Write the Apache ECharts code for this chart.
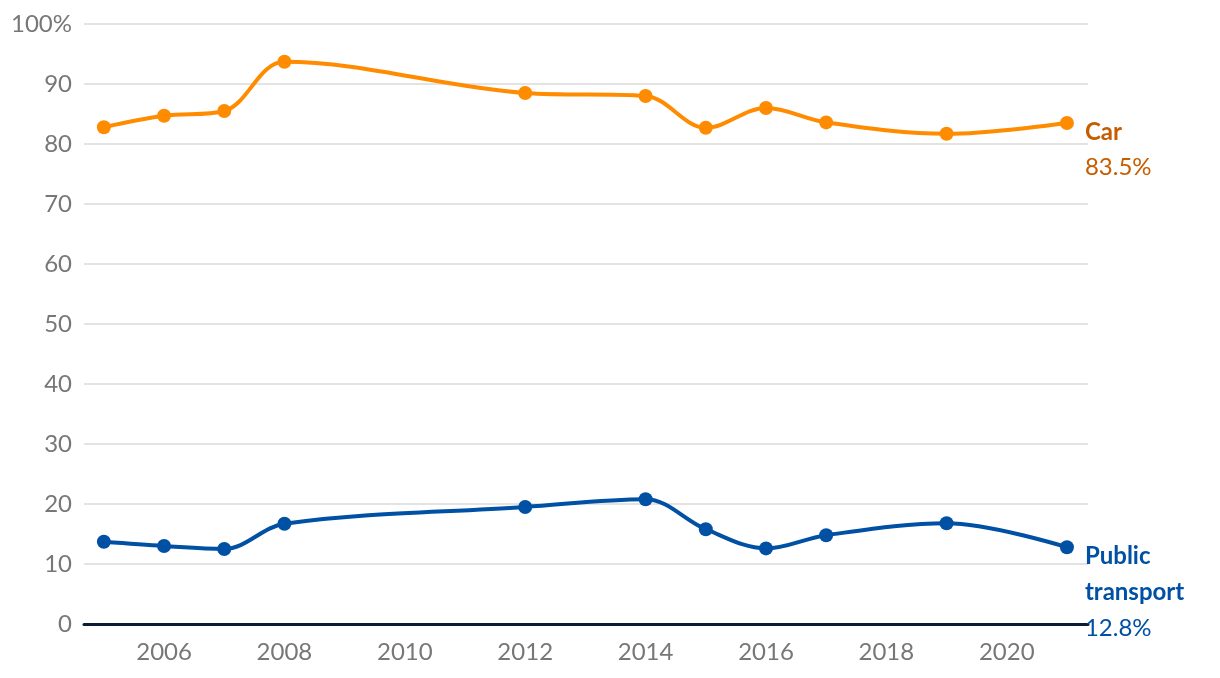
<!DOCTYPE html>
<html>
<head>
<meta charset="utf-8">
<script src="https://cdn.jsdelivr.net/npm/echarts@6/dist/echarts.min.js"></script>
<style>html,body{margin:0;padding:0;background:#fff}#c{width:1220px;height:678px}</style>
</head>
<body>
<div id="c"></div>
<script>
var years = [2005, 2006, 2007, 2008, 2012, 2014, 2015, 2016, 2017, 2019, 2021];
var carValues = [82.8, 84.7, 85.5, 93.7, 88.5, 88.0, 82.7, 86.0, 83.6, 81.7, 83.5];
var publicValues = [13.7, 13.0, 12.5, 16.7, 19.5, 20.8, 15.8, 12.6, 14.8, 16.8, 12.8];
var xTickLabels = [2006, 2008, 2010, 2012, 2014, 2016, 2018, 2020];
var seriesNames = ['Car', 'Public transport'];

var FONT = 'Lato, "Open Sans", sans-serif';
function pairs(vals){ return years.map(function(y,i){ return [y, vals[i]]; }); }

var chart = echarts.init(document.getElementById('c'), null, {renderer:'canvas'});
chart.setOption({
  animation: false,
  grid: {left: 84, right: 132, top: 24, bottom: 54, containLabel: false},
  xAxis: {
    type: 'value', min: 2004.67, max: 2021.35,
    splitLine: {show: false},
    axisLine: {show: true, onZero: true, lineStyle: {color: '#0c1a36', width: 3}},
    axisTick: {show: false},
    axisLabel: {customValues: xTickLabels, color: '#777', fontSize: 24, fontFamily: FONT, margin: 16,
      formatter: function(v){ return String(Math.round(v)); }}
  },
  yAxis: {
    type: 'value', min: 0, max: 100, interval: 10,
    axisLine: {show: false}, axisTick: {show: false},
    splitLine: {lineStyle: {color: '#e3e3e3', width: 2}},
    axisLabel: {color: '#777', fontSize: 24, fontFamily: FONT, margin: 12,
      formatter: function(v){ return v === 100 ? '100%' : String(v); }}
  },
  series: [
    {
      name: seriesNames[0], type: 'line', smooth: 0.35,
      data: pairs(carValues),
      symbol: 'circle', symbolSize: 14,
      lineStyle: {color: '#ff8c00', width: 4},
      itemStyle: {color: '#ff8c00'},
      endLabel: {show: true, distance: 18, offset: [0, 27],
        formatter: function(p){ return '{t|Car}\n{v|' + p.value[1].toFixed(1) + '%}'; },
        rich: {
          t: {fontFamily: FONT, fontSize: 24, fontWeight: 'bold', color: '#c65d00', lineHeight: 35},
          v: {fontFamily: FONT, fontSize: 24, color: '#c65d00', lineHeight: 35}
        }
      }
    },
    {
      name: seriesNames[1], type: 'line', smooth: 0.35,
      data: pairs(publicValues),
      symbol: 'circle', symbolSize: 14,
      lineStyle: {color: '#0050a4', width: 4},
      itemStyle: {color: '#0050a4'},
      endLabel: {show: true, distance: 18, offset: [0, 45],
        formatter: function(p){ return '{t|Public}\n{t|transport}\n{v|' + p.value[1].toFixed(1) + '%}'; },
        rich: {
          t: {fontFamily: FONT, fontSize: 24, fontWeight: 'bold', color: '#0050a4', lineHeight: 36},
          v: {fontFamily: FONT, fontSize: 24, color: '#0050a4', lineHeight: 36}
        }
      }
    }
  ]
});
</script>
</body>
</html>
